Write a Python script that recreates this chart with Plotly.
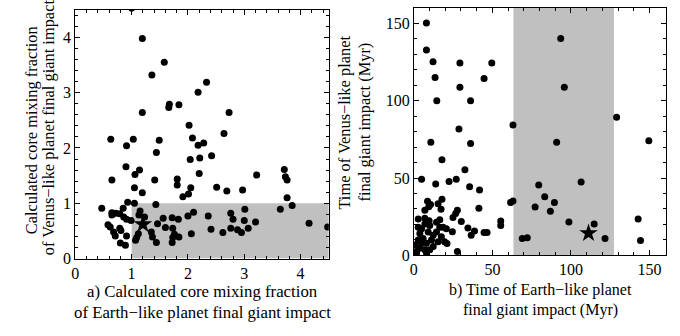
import plotly.graph_objects as go

# ---------------- Data: panel a) core mixing fractions ----------------
mix_earth = [1.00, 1.19, 1.58, 1.36, 2.33, 2.18, 1.67, 1.66, 1.84, 1.19, 2.73, 2.02, 2.64, 2.08,
             0.63, 1.03, 1.49, 2.28, 2.18, 0.91, 1.44, 2.42, 2.21, 2.04, 0.90, 1.14, 1.06,
             2.20, 3.71, 3.22, 3.73, 3.76, 0.65, 1.41, 1.81, 1.81, 1.05, 2.05, 2.51, 2.69,
             2.97, 2.01, 1.91, 1.19, 3.76, 3.85,
             0.93, 1.05, 1.43, 0.47, 0.85, 0.65, 0.65, 0.72, 0.79, 1.15, 1.13, 0.86, 0.91,
             0.99, 1.23, 1.56, 1.72, 1.83, 2.00, 2.10, 2.36, 0.58, 0.62, 0.79, 0.81, 0.68,
             0.71, 0.91, 0.80, 0.89, 1.12, 1.09, 1.07, 1.35, 1.37, 1.44, 1.46, 1.60, 1.73,
             1.76, 1.73, 1.84, 1.72, 2.06, 2.41, 3.01, 3.64, 2.76, 2.80, 3.00, 3.20, 4.15,
             4.48, 2.62, 2.76, 2.88, 2.95, 3.07]
mix_venus = [4.53, 3.98, 3.55, 3.32, 3.19, 3.01, 2.79, 2.73, 2.78, 2.64, 2.64, 2.41, 2.26, 2.18,
             2.16, 2.16, 2.14, 2.09, 2.05, 2.04, 1.92, 1.86, 1.82, 1.79, 1.66, 1.60, 1.52,
             1.54, 1.61, 1.51, 1.48, 1.42, 1.42, 1.42, 1.44, 1.33, 1.28, 1.28, 1.29, 1.22,
             1.24, 1.17, 1.12, 1.19, 1.10, 0.96,
             1.02, 1.00, 0.98, 0.91, 0.91, 0.83, 0.79, 0.82, 0.81, 0.86, 0.79, 0.75, 0.71,
             0.69, 0.75, 0.73, 0.74, 0.71, 0.77, 0.84, 0.77, 0.61, 0.57, 0.55, 0.51, 0.48,
             0.41, 0.41, 0.28, 0.24, 0.45, 0.38, 0.33, 0.48, 0.39, 0.29, 0.63, 0.56, 0.55,
             0.44, 0.38, 0.39, 0.29, 0.45, 0.53, 0.89, 0.89, 0.82, 0.71, 0.69, 0.66, 0.64,
             0.57, 0.47, 0.55, 0.52, 0.47, 0.55]
mix_star_earth = [1.20]
mix_star_venus = [0.62]
mix_box_x = [1.0, 4.5]
mix_box_y = [0.0, 1.0]

# ---------------- Data: panel b) times of final giant impact (Myr) ----------------
time_earth = [8.0, 93.5, 8.0, 12.2, 29.3, 49.6, 13.5, 44.7, 29.3, 95.8, 14.6, 36.1, 129.1, 63.1,
              28.7, 10.8, 36.1, 90.9, 149.6, 17.9, 32.5, 79.5, 106.5, 83.3, 89.5, 61.6, 63.1,
              77.2, 86.9, 55.3, 55.3, 98.7, 114.8, 142.8, 69.0, 72.2, 121.7, 144.3,
              4.9, 13.9, 22.4, 27.0, 35.5, 41.8, 8.7, 10.6, 9.5, 15.4, 17.9, 27.7, 26.6, 41.4,
              17.3, 7.0, 2.8, 7.0, 9.7, 16.5, 24.9, 30.2, 34.4, 38.6, 36.5, 44.7, 46.6, 19.6,
              21.1, 27.7, 24.5,
              4.9, 3.8, 5.9, 2.8, 4.9, 8.0, 11.2, 12.3, 14.4, 9.1, 7.0, 3.8, 1.7, 10.1, 12.3,
              0.7, 8.0, 15.4, 17.5, 16.5, 10.1, 7.0, 18.6, 2.8, 14.4, 20.7, 1.7]
time_venus = [150.3, 140.3, 132.9, 125.2, 124.5, 124.5, 115.1, 114.5, 108.8, 108.8, 100.0, 100.0,
              89.3, 84.3, 81.8, 73.2, 72.3, 73.2, 74.2, 61.8, 55.3, 45.5, 47.4, 37.9, 34.2,
              34.2, 35.2, 31.2, 28.5, 22.2, 19.3, 21.6, 20.3, 23.5, 10.9, 11.3, 10.9, 9.6,
              49.2, 46.1, 47.8, 49.2, 44.4, 42.3, 35.0, 32.9, 31.4, 33.3, 36.3, 29.1, 27.0, 30.4,
              29.8, 29.1, 23.5, 23.9, 22.4, 23.0, 24.5, 21.8, 17.6, 15.7, 13.0, 14.7, 14.7, 8.8,
              7.7, 2.5, 15.3,
              17.2, 14.1, 10.9, 9.9, 7.8, 7.8, 9.9, 13.0, 15.1, 15.1, 3.5, 4.6, 2.5, 3.5, 5.6,
              6.7, 1.4, 8.8, 12.0, 18.2, 19.3, 20.3, 18.2, 18.2, 21.4, 17.2, 1.4]
time_star_earth = [111.2]
time_star_venus = [14.3]
time_box_x = [63.4, 127.4]
time_box_y = [0.0, 160.0]

# ---------------- Text ----------------
caption_a = ["a) Calculated core mixing fraction", "of Earth\u2212like planet final giant impact"]
caption_b = ["b) Time of Earth\u2212like planet", "final giant impact (Myr)"]
ytitle_a = ["Calculated core mixing fraction", "of Venus\u2212like planet final giant impact"]
ytitle_b = ["Time of Venus\u2212like planet", "final giant impact (Myr)"]

# ---------------- Figure ----------------
FONT = "Liberation Serif"
fig = go.Figure()

fig.add_trace(go.Scatter(x=mix_earth, y=mix_venus, mode="markers",
                         marker=dict(color="black", size=7), xaxis="x", yaxis="y",
                         showlegend=False))
fig.add_trace(go.Scatter(x=mix_star_earth, y=mix_star_venus, mode="markers",
                         marker=dict(color="black", size=14, symbol="star"),
                         xaxis="x", yaxis="y", showlegend=False))
fig.add_trace(go.Scatter(x=time_earth, y=time_venus, mode="markers",
                         marker=dict(color="black", size=7), xaxis="x2", yaxis="y2",
                         showlegend=False))
fig.add_trace(go.Scatter(x=time_star_earth, y=time_star_venus, mode="markers",
                         marker=dict(color="black", size=14, symbol="star"),
                         xaxis="x2", yaxis="y2", showlegend=False))

fig.add_shape(type="rect", xref="x", yref="y", x0=mix_box_x[0], x1=mix_box_x[1],
              y0=mix_box_y[0], y1=mix_box_y[1], fillcolor="#c0c0c0", line_width=0,
              layer="below")
fig.add_shape(type="rect", xref="x2", yref="y2", x0=time_box_x[0], x1=time_box_x[1],
              y0=time_box_y[0], y1=time_box_y[1], fillcolor="#c0c0c0", line_width=0,
              layer="below")

W, H = 680, 336


def ax(domain, rng, dtick, minor, anchor):
    return dict(domain=domain, range=rng, dtick=dtick, tick0=0, anchor=anchor,
                showgrid=False, zeroline=False, showline=True, linecolor="black",
                linewidth=1, mirror="allticks", ticks="inside", ticklen=5,
                tickcolor="black", tickwidth=1,
                minor=dict(dtick=minor, ticks="inside", ticklen=3, tickcolor="black",
                           tickwidth=1, showgrid=False),
                tickfont=dict(family=FONT, size=16, color="black"))


fig.update_layout(
    width=W, height=H, margin=dict(l=0, r=0, t=0, b=0),
    paper_bgcolor="white", plot_bgcolor="white",
    xaxis=ax([71.7 / W, 326.7 / W], [0, 4.5], 1, 0.2, "y"),
    yaxis=ax([(H - 265.7) / H, (H - 10) / H], [0, 4.5], 1, 0.2, "x"),
    xaxis2=ax([412.3 / W, 665.7 / W], [0, 160.4], 50, 10, "y2"),
    yaxis2=ax([(H - 262.3) / H, (H - 8.3) / H], [0, 160], 50, 10, "x2"),
)

annos = [
    dict(text=caption_a[0], x=200, y=300, size=16.8),
    dict(text=caption_a[1], x=200, y=321, size=16.8),
    dict(text=caption_b[0], x=540, y=298, size=16),
    dict(text=caption_b[1], x=540, y=319, size=16),
    dict(text=ytitle_a[0], x=28, y=134, textangle=-90, size=16.4),
    dict(text=ytitle_a[1], x=45, y=131, textangle=-90, size=16.4),
    dict(text=ytitle_b[0], x=343, y=126, textangle=-90, size=16.4),
    dict(text=ytitle_b[1], x=363, y=125, textangle=-90, size=16.4),
]
for a in annos:
    size = a.pop("size")
    a["x"] = a["x"] / W
    a["y"] = (H - a["y"]) / H
    fig.add_annotation(xref="paper", yref="paper", showarrow=False,
                       font=dict(family=FONT, size=size, color="black"),
                       xanchor="center", yanchor="middle", align="center", **a)

fig.write_html("out.html")
